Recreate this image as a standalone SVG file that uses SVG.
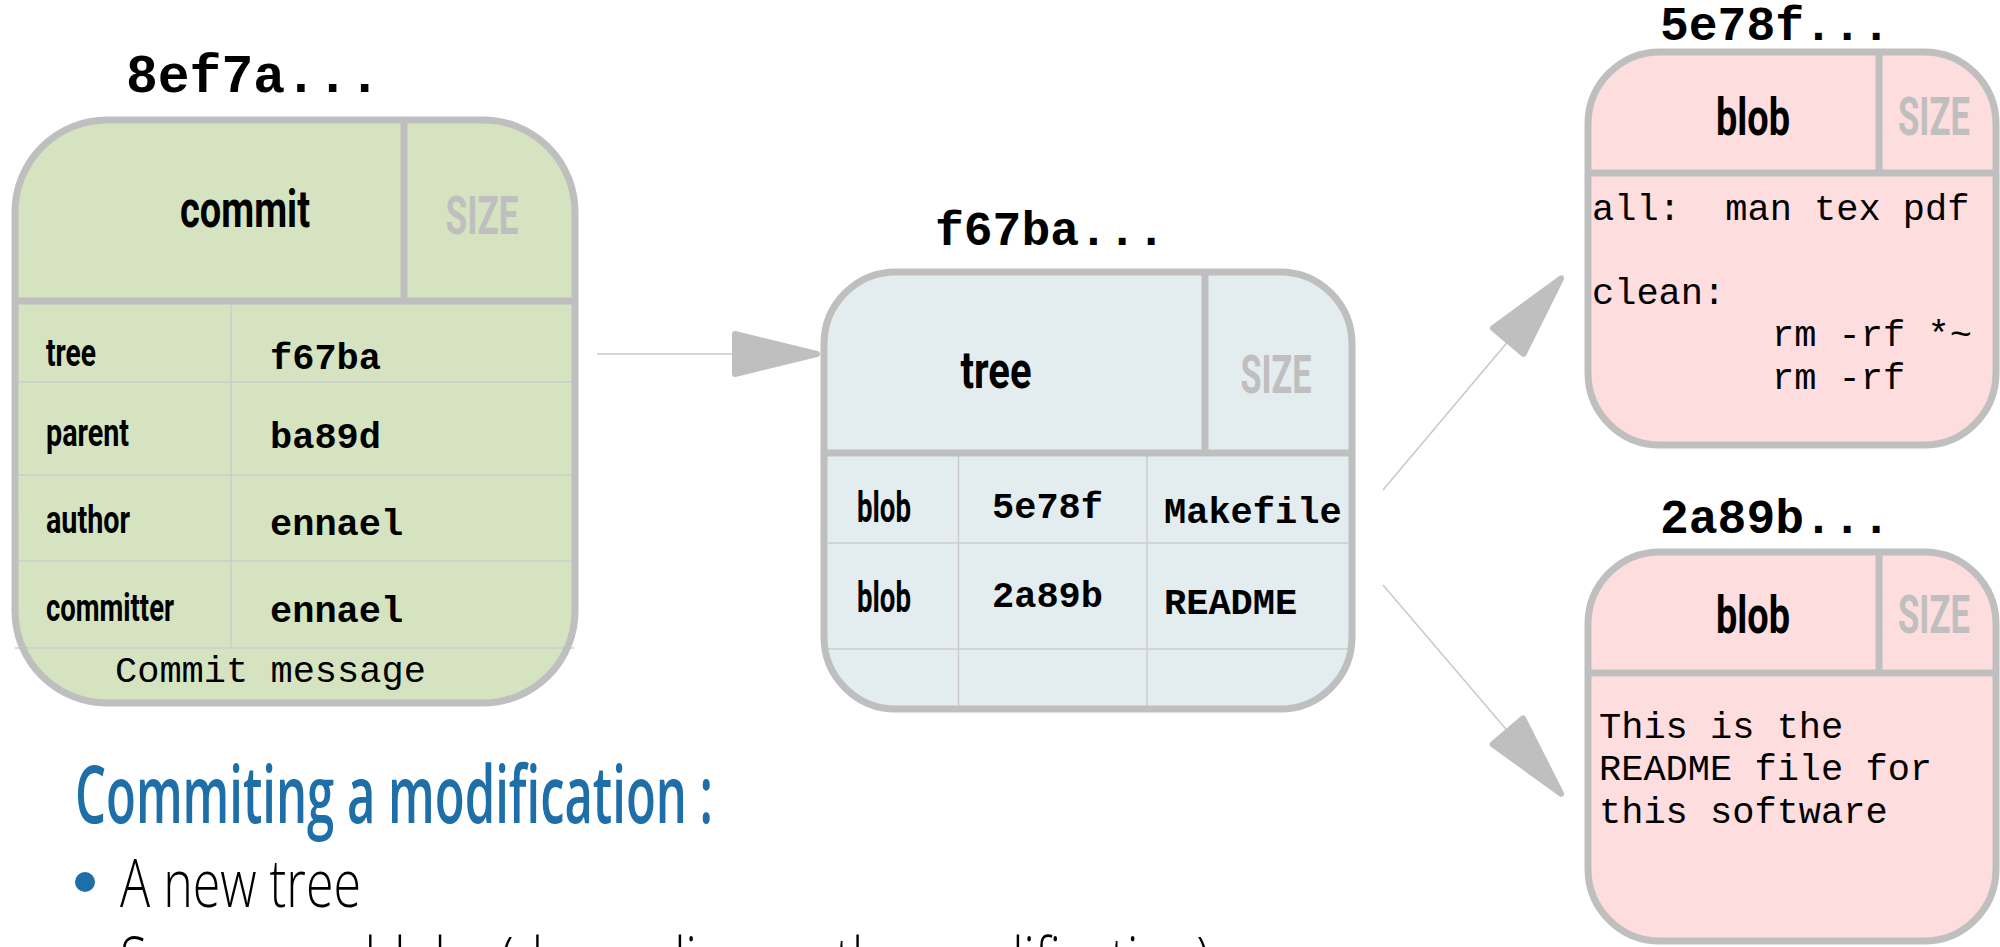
<svg xmlns="http://www.w3.org/2000/svg" width="2000" height="947" viewBox="0 0 2000 947">
<style>
.hash{font-family:'Liberation Mono','Courier New',monospace;font-weight:bold;fill:#000}
.mono{font-family:'Liberation Mono','Courier New',monospace;font-size:37px;fill:#000}
.monob{font-family:'Liberation Mono','Courier New',monospace;font-size:37px;font-weight:bold;fill:#000}
.lbl{font-family:'Liberation Sans Narrow','Roboto','Liberation Sans',sans-serif;font-weight:bold;fill:#000}
.size{font-family:'Liberation Sans Narrow','Roboto','Liberation Sans',sans-serif;font-weight:bold;font-size:54px;fill:#bfbfbf}
.border{fill:none;stroke:#bfbfbf;stroke-width:7}
.div{stroke:#bfbfbf;stroke-width:7}
.row{stroke:#cccccc;stroke-width:1.5}
.commitfill{fill:#d5e3c0}
.treefill{fill:#e3ecee}
.blobfill{fill:#fdddde}
.conn{stroke:#c8c8c8;stroke-width:1.5;fill:none}
.head{font-family:'Open Sans','Liberation Sans',sans-serif;font-weight:600;font-size:80px;fill:#1e6ea8}
.bul{font-family:'Open Sans','Liberation Sans',sans-serif;font-weight:300;font-size:67px;fill:#000}
</style>
<defs>
<marker id="arr" markerUnits="userSpaceOnUse" markerWidth="92" markerHeight="48" refX="89" refY="24" orient="auto" overflow="visible">
<path d="M4,4 L86,24 L4,44 Z" fill="#bfbfbf" stroke="#bfbfbf" stroke-width="6" stroke-linejoin="round"/>
</marker>
</defs>

<g id="connectors">
<line class="conn" x1="597" y1="354" x2="820" y2="354" marker-end="url(#arr)"/>
<line class="conn" x1="1383" y1="490" x2="1563" y2="276" marker-end="url(#arr)"/>
<line class="conn" x1="1383" y1="585" x2="1563" y2="796" marker-end="url(#arr)"/>
</g>

<g id="commit">
<text class="hash" x="126" y="92" font-size="53">8ef7a...</text>
<rect class="commitfill" x="15" y="120" width="560" height="583" rx="92" ry="92"/>
<line class="row" x1="18" y1="382" x2="571" y2="382"/>
<line class="row" x1="18" y1="475" x2="571" y2="475"/>
<line class="row" x1="18" y1="561" x2="571" y2="561"/>
<line class="row" x1="15" y1="648" x2="574" y2="648"/>
<line class="row" x1="231" y1="301" x2="231" y2="648"/>
<rect class="border" x="15" y="120" width="560" height="583" rx="92" ry="92"/>
<line class="div" x1="15" y1="301" x2="575" y2="301"/>
<line class="div" x1="404" y1="120" x2="404" y2="301"/>
<text class="lbl" x="245" y="227" font-size="52" text-anchor="middle" textLength="130" lengthAdjust="spacingAndGlyphs">commit</text>
<text class="size" x="482" y="234" text-anchor="middle" textLength="73" lengthAdjust="spacingAndGlyphs">SIZE</text>
<text class="lbl" x="46" y="366" font-size="38" textLength="50" lengthAdjust="spacingAndGlyphs">tree</text>
<text class="monob" x="270" y="369">f67ba</text>
<text class="lbl" x="46" y="446" font-size="38" textLength="83" lengthAdjust="spacingAndGlyphs">parent</text>
<text class="monob" x="270" y="448">ba89d</text>
<text class="lbl" x="46" y="533" font-size="38" textLength="84" lengthAdjust="spacingAndGlyphs">author</text>
<text class="monob" x="270" y="535">ennael</text>
<text class="lbl" x="46" y="621" font-size="38" textLength="128" lengthAdjust="spacingAndGlyphs">committer</text>
<text class="monob" x="270" y="622">ennael</text>
<text class="mono" x="115" y="682">Commit message</text>
</g>

<g id="tree">
<text class="hash" x="935" y="245" font-size="48">f67ba...</text>
<rect class="treefill" x="824" y="272" width="528" height="437" rx="72" ry="72"/>
<line class="row" x1="828" y1="543" x2="1348" y2="543"/>
<line class="row" x1="828" y1="649" x2="1348" y2="649"/>
<line class="row" x1="958.5" y1="453" x2="958.5" y2="708"/>
<line class="row" x1="1147" y1="453" x2="1147" y2="708"/>
<rect class="border" x="824" y="272" width="528" height="437" rx="72" ry="72"/>
<line class="div" x1="824" y1="453" x2="1352" y2="453"/>
<line class="div" x1="1205" y1="272" x2="1205" y2="453"/>
<text class="lbl" x="996" y="388" font-size="52" text-anchor="middle" textLength="71" lengthAdjust="spacingAndGlyphs">tree</text>
<text class="size" x="1276" y="393" text-anchor="middle" textLength="71" lengthAdjust="spacingAndGlyphs">SIZE</text>
<text class="lbl" x="857" y="522" font-size="42" textLength="54" lengthAdjust="spacingAndGlyphs">blob</text>
<text class="monob" x="992" y="518">5e78f</text>
<text class="monob" x="1164" y="523">Makefile</text>
<text class="lbl" x="857" y="612" font-size="42" textLength="54" lengthAdjust="spacingAndGlyphs">blob</text>
<text class="monob" x="992" y="607">2a89b</text>
<text class="monob" x="1164" y="614">README</text>
</g>

<g id="blob-makefile">
<text class="hash" x="1660" y="40" font-size="48">5e78f...</text>
<rect class="blobfill" x="1588" y="52" width="408" height="393" rx="72" ry="72"/>
<rect class="border" x="1588" y="52" width="408" height="393" rx="72" ry="72"/>
<line class="div" x1="1588" y1="173" x2="1996" y2="173"/>
<line class="div" x1="1879" y1="52" x2="1879" y2="173"/>
<text class="lbl" x="1753" y="135" font-size="52" text-anchor="middle" textLength="74" lengthAdjust="spacingAndGlyphs">blob</text>
<text class="size" x="1934" y="135" text-anchor="middle" textLength="72" lengthAdjust="spacingAndGlyphs">SIZE</text>
<text class="mono" x="1592" y="220" xml:space="preserve">all:  man tex pdf</text>
<text class="mono" x="1592" y="304">clean:</text>
<text class="mono" x="1772" y="346">rm -rf *~</text>
<text class="mono" x="1772" y="389">rm -rf</text>
</g>

<g id="blob-readme">
<text class="hash" x="1660" y="533" font-size="48">2a89b...</text>
<rect class="blobfill" x="1588" y="552" width="408" height="389" rx="72" ry="72"/>
<rect class="border" x="1588" y="552" width="408" height="389" rx="72" ry="72"/>
<line class="div" x1="1588" y1="673" x2="1996" y2="673"/>
<line class="div" x1="1879" y1="552" x2="1879" y2="673"/>
<text class="lbl" x="1753" y="633" font-size="52" text-anchor="middle" textLength="74" lengthAdjust="spacingAndGlyphs">blob</text>
<text class="size" x="1934" y="633" text-anchor="middle" textLength="72" lengthAdjust="spacingAndGlyphs">SIZE</text>
<text class="mono" x="1599" y="738">This is the</text>
<text class="mono" x="1599" y="780">README file for</text>
<text class="mono" x="1599" y="823">this software</text>
</g>

<g id="caption">
<text class="head" x="75" y="823" textLength="638" lengthAdjust="spacingAndGlyphs">Commiting a modification :</text>
<circle cx="85" cy="882" r="10" fill="#1e6ea8"/>
<text class="bul" x="120" y="907" textLength="241" lengthAdjust="spacingAndGlyphs">A new tree</text>
<text class="bul" x="120" y="985" textLength="1090" lengthAdjust="spacingAndGlyphs">Some new blobs (depending on the modification)</text>
</g>
</svg>
